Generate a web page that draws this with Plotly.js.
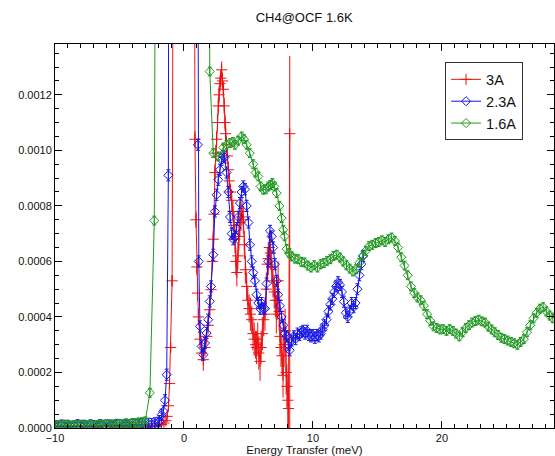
<!DOCTYPE html>
<html>
<head>
<meta charset="utf-8">
<script src="https://cdn.plot.ly/plotly-3.0.1.min.js"></script>
<style>html,body{margin:0;padding:0;background:#fff;}#chart{width:555px;height:456px;}</style>
</head>
<body>
<div id="chart"></div>
<script>
// ---- data: 3A ----
const redX = [
-10,-9.75,-9.5,-9.25,-9,-8.75,-8.5,-8.25,-8,-7.75,-7.5,-7.25,-7,-6.75,-6.5,-6.25,-6,-5.75,-5.5,-5.25,-5,-4.75,-4.5,-4.25,-4,-3.75,-3.5,-3.25,-3,-2.75,-2.5,-2.25,-2,-1.75,-1.55,
-1.4,-1.3,-1.2,-1.12,-1.03,-0.92,-0.8,-0.5,0,0.5,0.75,
0.85,0.93,1.0,1.05,1.12,1.24,1.37,1.5,1.63,1.76,1.88,2.0,2.1,2.2,2.27,2.33,2.4,2.47,2.53,2.6,
2.66,2.72,2.79,2.85,2.92,2.98,3.05,3.12,3.18,3.23,3.3,3.36,3.44,3.51,3.6,3.7,3.8,3.88,3.95,4.02,
4.1,4.18,4.26,4.34,4.42,4.5,4.6,4.68,4.76,4.86,4.95,5.05,5.15,5.25,5.35,5.45,5.55,5.63,5.72,5.8,
5.9,5.98,6.08,6.18,6.28,6.38,6.46,6.54,6.62,6.7,6.8,6.9,7.0,7.08,7.16,7.24,7.3,7.38,7.44,7.52,
7.6,7.68,7.76,7.84,7.92,7.98,8.05,8.1,8.2];
const redY = [
5e-6,8e-6,4e-6,7e-6,6e-6,3e-6,9e-6,5e-6,6e-6,4e-6,8e-6,5e-6,7e-6,3e-6,6e-6,5e-6,8e-6,4e-6,6e-6,7e-6,5e-6,4e-6,7e-6,6e-6,5e-6,8e-6,6e-6,7e-6,5e-6,8e-6,7e-6,9e-6,1.0e-5,1.3e-5,1.8e-5,
2.6e-5,4.2e-5,8e-5,1.6e-4,2.9e-4,5.3e-4,2.5e-3,1.5e-2,3e-2,1.5e-2,4e-3,
1.04e-3,7.5e-4,5.8e-4,4.86e-4,4.0e-4,3.2e-4,2.7e-4,2.46e-4,2.9e-4,3.3e-4,3.7e-4,4.26e-4,4.98e-4,6.0e-4,6.8e-4,7.7e-4,9.2e-4,9.9e-4,1.04e-3,1.1e-3,
1.16e-3,1.2e-3,1.24e-3,1.26e-3,1.29e-3,1.25e-3,1.22e-3,1.16e-3,1.1e-3,1.06e-3,1.02e-3,9.8e-4,9.3e-4,8.9e-4,8.5e-4,8.2e-4,7.8e-4,7.3e-4,6.8e-4,6.0e-4,
5.6e-4,6.2e-4,6.9e-4,7.4e-4,7.6e-4,7.8e-4,7.5e-4,6.6e-4,5.7e-4,5.1e-4,4.6e-4,4.3e-4,4.1e-4,3.9e-4,3.4e-4,3.2e-4,3.0e-4,2.9e-4,3.2e-4,2.7e-4,
2.4e-4,2.9e-4,3.4e-4,3.9e-4,4.1e-4,5.0e-4,5.9e-4,6.1e-4,6.5e-4,6.3e-4,5.8e-4,5.3e-4,4.9e-4,4.6e-4,4.1e-4,4.6e-4,5.3e-4,4.2e-4,3.3e-4,2.9e-4,
2.6e-4,1.9e-4,3.0e-4,3.5e-4,2.0e-4,1.5e-4,1.0e-4,7e-5,1.06e-3];
const redErr = [
4e-6,4e-6,4e-6,4e-6,4e-6,4e-6,4e-6,4e-6,4e-6,4e-6,4e-6,4e-6,4e-6,4e-6,4e-6,4e-6,4e-6,4e-6,4e-6,4e-6,4e-6,4e-6,4e-6,4e-6,4e-6,4e-6,4e-6,4e-6,4e-6,4e-6,4e-6,4e-6,4e-6,4e-6,4e-6,
5e-6,6e-6,8e-6,1e-5,1.5e-5,2e-5,3e-5,0,0,0,3e-5,
3e-5,3e-5,3e-5,3e-5,3e-5,3e-5,3e-5,4e-5,3e-5,3e-5,3e-5,3e-5,3e-5,3e-5,3e-5,3e-5,3e-5,3e-5,3e-5,3e-5,
3e-5,3e-5,3e-5,3e-5,3e-5,3e-5,3e-5,3e-5,3e-5,3e-5,3e-5,3e-5,3e-5,3e-5,3e-5,4e-5,4e-5,5e-5,5e-5,5e-5,
5e-5,5e-5,5e-5,5e-5,5e-5,5e-5,5e-5,5e-5,5e-5,5e-5,5e-5,5e-5,6e-5,5e-5,6e-5,6e-5,5e-5,6e-5,6e-5,6e-5,
7e-5,6e-5,6e-5,6e-5,6e-5,6e-5,6e-5,6e-5,6e-5,6e-5,6e-5,6e-5,6e-5,6e-5,7e-5,7e-5,7e-5,7e-5,7e-5,7e-5,
7e-5,8e-5,8e-5,8e-5,8e-5,8e-5,9e-5,9e-5,2.8e-4];
const redLastErrMinus = 1.3e-3;

// ---- data: 2.3A ----
const blueX = [
-10,-9.75,-9.5,-9.25,-9,-8.75,-8.5,-8.25,-8,-7.75,-7.5,-7.25,-7,-6.75,-6.5,-6.25,-6,-5.75,-5.5,-5.25,-5,-4.75,-4.5,-4.25,-4,-3.75,-3.5,-3.25,-3,-2.75,-2.5,-2.25,-2,
-1.9,-1.73,-1.6,-1.47,-1.34,-1.21,-1.1,-0.5,0,0.5,0.95,1.08,
1.15,1.24,1.37,1.5,1.63,1.76,1.88,2.0,2.1,2.27,2.4,2.53,2.66,2.79,2.92,3.05,3.15,3.3,3.44,3.57,
3.7,3.82,3.95,4.08,4.2,4.34,4.47,4.6,4.73,4.86,5.0,5.12,5.25,5.37,5.5,5.63,5.76,5.9,6.02,6.15,
6.28,6.4,6.54,6.67,6.8,6.92,7.05,7.18,7.3,7.44,7.57,7.7,7.83,7.96,8.09,8.2,8.35,8.5,8.65,8.8,
8.95,9.1,9.25,9.4,9.55,9.7,9.85,10.0,10.15,10.3,10.45,10.6,10.75,10.9,11.05,11.2,11.35,11.5,11.65,11.8,
11.95,12.1,12.25,12.4,12.55,12.7,12.85,13.0,13.15,13.3,13.45,13.6,13.75,13.9];
const blueY = [
7e-6,5e-6,9e-6,6e-6,8e-6,5e-6,7e-6,1.0e-5,6e-6,8e-6,5e-6,9e-6,7e-6,6e-6,1.0e-5,8e-6,6e-6,9e-6,7e-6,1.1e-5,8e-6,9e-6,1.2e-5,9e-6,1.1e-5,1.3e-5,1.0e-5,1.4e-5,1.2e-5,1.5e-5,1.4e-5,1.7e-5,1.9e-5,
2.5e-5,4.8e-5,6e-5,1.0e-4,1.92e-4,9.1e-4,4e-3,2e-2,4e-2,2e-2,4e-3,1.02e-3,
6.0e-4,3.66e-4,2.94e-4,2.64e-4,3.06e-4,3.42e-4,3.9e-4,4.56e-4,5.1e-4,6.24e-4,7.8e-4,8.4e-4,8.94e-4,9.3e-4,9.66e-4,9.8e-4,9.75e-4,9.2e-4,8.5e-4,7.6e-4,
7.0e-4,6.8e-4,6.9e-4,7.2e-4,7.6e-4,8.1e-4,8.5e-4,8.7e-4,8.6e-4,8.0e-4,7.4e-4,6.6e-4,6.0e-4,5.6e-4,5.3e-4,4.8e-4,4.5e-4,4.3e-4,4.5e-4,4.3e-4,
4.3e-4,5.2e-4,6.0e-4,7.1e-4,6.9e-4,6.5e-4,5.9e-4,5.3e-4,4.8e-4,4.4e-4,4.0e-4,3.7e-4,3.4e-4,3.3e-4,3.0e-4,2.8e-4,3.15e-4,3.3e-4,3.2e-4,3.4e-4,
3.35e-4,3.45e-4,3.5e-4,3.4e-4,3.5e-4,3.35e-4,3.3e-4,3.35e-4,3.25e-4,3.35e-4,3.3e-4,3.4e-4,3.55e-4,3.7e-4,3.9e-4,4.2e-4,4.45e-4,4.65e-4,4.9e-4,5.1e-4,
5.25e-4,5.15e-4,4.9e-4,4.55e-4,4.15e-4,4.0e-4,4.2e-4,4.5e-4,4.35e-4,4.5e-4,5.0e-4,5.5e-4,5.9e-4,6.2e-4];
const blueErr = 2e-5;

// ---- data: 1.6A ----
const greenX = [
-10,-9.75,-9.5,-9.25,-9,-8.75,-8.5,-8.25,-8,-7.75,-7.5,-7.25,-7,-6.75,-6.5,-6.25,-6,-5.75,-5.5,-5.25,-5,-4.75,-4.5,-4.25,-4,-3.75,-3.5,-3.25,-3,
-2.64,-2.3,-2.0,-1.0,0,1.0,1.7,2.0,2.27,2.66,3.05,3.3,3.57,3.8,3.95,4.2,4.47,4.65,4.86,5.1,5.37,5.55,5.76,5.95,6.15,6.35,6.54,6.7,6.85,7.0,7.19,7.4,7.57,7.7,7.8,7.96,8.15,8.35,
8.6,8.85,9.1,9.35,9.6,9.85,10.1,10.35,10.6,10.85,11.1,11.35,11.6,11.85,12.1,12.35,12.6,12.85,13.1,13.35,
13.6,13.85,14.1,14.35,14.6,14.85,15.1,15.35,15.6,15.85,16.1,16.35,16.6,16.85,17.1,17.35,17.6,17.85,18.1,18.35,
18.6,18.85,19.1,19.35,19.6,19.85,20.1,20.35,20.6,20.85,21.1,21.35,21.6,21.85,22.1,22.35,22.6,22.85,23.1,23.35,
23.6,23.85,24.1,24.35,24.6,24.85,25.1,25.35,25.6,25.85,26.1,26.35,26.6,26.85,27.1,27.35,27.6,27.85,28.1,28.35,
28.6,28.85];
const greenY = [
9e-6,1.1e-5,8e-6,1.2e-5,1.0e-5,7e-6,1.1e-5,9e-6,1.2e-5,8e-6,1.0e-5,1.3e-5,9e-6,1.1e-5,1.2e-5,1.0e-5,1.4e-5,1.1e-5,1.3e-5,1.2e-5,1.5e-5,1.3e-5,1.6e-5,1.4e-5,1.8e-5,1.7e-5,2.0e-5,2.1e-5,2.4e-5,
1.27e-4,7.47e-4,5e-3,3e-2,5e-2,3e-2,5e-3,1.284e-3,9.9e-4,9.78e-4,1.01e-3,1.02e-3,1.026e-3,1.03e-3,1.02e-3,1.035e-3,1.05e-3,1.04e-3,1.02e-3,9.9e-4,9.5e-4,9.2e-4,9.06e-4,8.7e-4,8.58e-4,8.6e-4,8.7e-4,8.75e-4,8.82e-4,8.7e-4,8.46e-4,8.0e-4,7.56e-4,7.14e-4,6.9e-4,6.45e-4,6.3e-4,6.18e-4,
6.1e-4,6.08e-4,5.98e-4,5.96e-4,5.85e-4,5.78e-4,5.86e-4,5.78e-4,5.9e-4,5.94e-4,6.02e-4,6.08e-4,6.2e-4,6.24e-4,6.14e-4,6.0e-4,5.86e-4,5.74e-4,5.64e-4,5.72e-4,
5.95e-4,6.2e-4,6.38e-4,6.55e-4,6.6e-4,6.66e-4,6.7e-4,6.76e-4,6.7e-4,6.8e-4,6.86e-4,6.74e-4,6.5e-4,6.15e-4,5.85e-4,5.5e-4,5.1e-4,4.86e-4,4.7e-4,4.6e-4,
4.4e-4,4.1e-4,3.86e-4,3.66e-4,3.6e-4,3.55e-4,3.56e-4,3.5e-4,3.56e-4,3.5e-4,3.4e-4,3.3e-4,3.45e-4,3.6e-4,3.7e-4,3.8e-4,3.85e-4,3.9e-4,3.84e-4,3.8e-4,
3.65e-4,3.55e-4,3.45e-4,3.35e-4,3.25e-4,3.2e-4,3.15e-4,3.1e-4,3.05e-4,3.0e-4,3.1e-4,3.2e-4,3.45e-4,3.7e-4,3.95e-4,4.15e-4,4.3e-4,4.35e-4,4.2e-4,4.05e-4,
3.95e-4,4.1e-4];
const greenErr = 1.6e-5;

const seriesNames = ['3A', '2.3A', '1.6A'];
const chartTitle = 'CH4@OCF 1.6K';
const xTitle = 'Energy Transfer (meV)';

const RED = '#ee1111', BLUE = '#1515e6', GREEN = '#1f991f';

const redMinus = redErr.slice(0, -1).concat([redLastErrMinus]);

const traces = [
  {x: redX, y: redY, name: seriesNames[0], type: 'scatter', mode: 'lines+markers',
   line: {color: RED, width: 1},
   marker: {symbol: 'cross-thin-open', size: 8, color: RED, line: {color: RED, width: 1}},
   error_y: {type: 'data', array: redErr, arrayminus: redMinus, symmetric: false, color: RED, thickness: 1, width: 0}},
  {x: blueX, y: blueY, name: seriesNames[1], type: 'scatter', mode: 'lines+markers',
   line: {color: BLUE, width: 1},
   marker: {symbol: 'diamond-open', size: 7, color: BLUE, line: {color: BLUE, width: 1}},
   error_y: {type: 'constant', value: blueErr, color: BLUE, thickness: 1, width: 2}},
  {x: greenX, y: greenY, name: seriesNames[2], type: 'scatter', mode: 'lines+markers',
   line: {color: GREEN, width: 1},
   marker: {symbol: 'diamond-open', size: 7, color: GREEN, line: {color: GREEN, width: 1}},
   error_y: {type: 'constant', value: greenErr, color: GREEN, thickness: 1, width: 2}}
];

const axisCommon = {
  showline: true, linecolor: '#000', linewidth: 1, mirror: 'ticks',
  ticks: 'inside', ticklen: 7, tickwidth: 1, tickcolor: '#000',
  showgrid: false, zeroline: false,
  tickfont: {family: 'Liberation Sans, Arial, sans-serif', size: 11, color: '#111'},
  minor: {ticks: 'inside', ticklen: 4, tickcolor: '#000', tickwidth: 1, showgrid: false}
};

const layout = {
  width: 555, height: 456,
  margin: {l: 55, r: 1, t: 44, b: 28, pad: 0},
  paper_bgcolor: '#fff', plot_bgcolor: '#fff',
  font: {family: 'Liberation Sans, Arial, sans-serif', color: '#111'},
  title: {text: chartTitle, font: {size: 13, color: '#111'}, x: 0.548, xref: 'container', xanchor: 'center', y: 0.962, yref: 'container', yanchor: 'middle'},
  showlegend: true,
  legend: {x: 0.938, y: 0.952, xanchor: 'right', yanchor: 'top', bgcolor: '#fff', bordercolor: '#333', borderwidth: 1,
           font: {size: 14.5, color: '#111'}, tracegroupgap: 0, itemwidth: 30},
  xaxis: Object.assign({}, axisCommon, {
    range: [-10, 28.69], tick0: 0, dtick: 10, minor: Object.assign({}, axisCommon.minor, {dtick: 1}),
    title: {text: xTitle, font: {size: 11.5, color: '#111'}, standoff: 5}, automargin: false
  }),
  yaxis: Object.assign({}, axisCommon, {
    range: [0, 0.001383], tick0: 0, dtick: 0.0002, tickformat: '.4f',
    minor: Object.assign({}, axisCommon.minor, {dtick: 0.00005}), automargin: false
  })
};

Plotly.newPlot('chart', traces, layout, {displayModeBar: false, staticPlot: true});
</script>
</body>
</html>
